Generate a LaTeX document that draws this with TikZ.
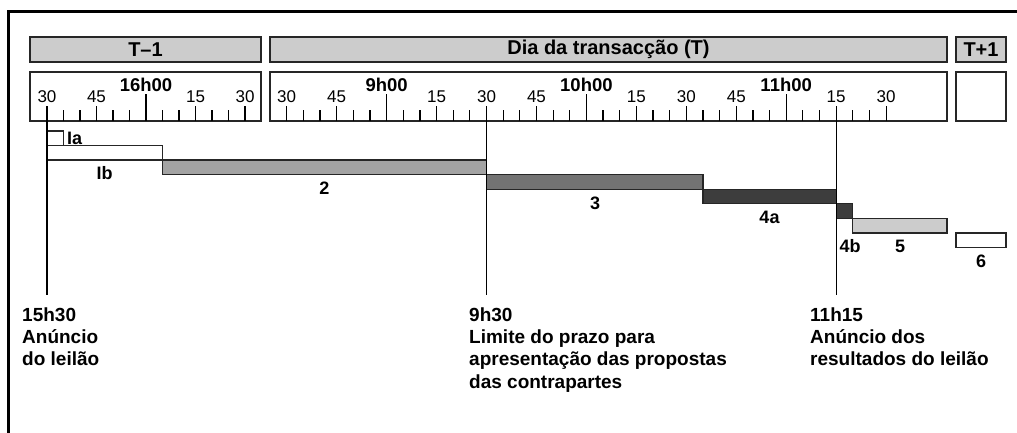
\documentclass[tikz,border=0pt]{standalone}
\usepackage{fontspec}
\setmainfont{Liberation Sans}
\begin{document}
\begin{tikzpicture}[x=1pt,y=-1pt,
  box/.style={draw=black!85,line width=1.2pt},
  daybar/.style={box,fill=black!20},
  phase/.style={draw=black!85,line width=1.3pt},
  daytext/.style={font=\bfseries\fontsize{20}{24}\selectfont},
  minlbl/.style={anchor=base,inner sep=0pt,font=\fontsize{17}{20}\selectfont},
  hourlbl/.style={anchor=base,inner sep=0pt,font=\bfseries\fontsize{18.5}{22}\selectfont},
  phaselbl/.style={anchor=base,inner sep=0pt,font=\bfseries\fontsize{18}{22}\selectfont},
  note/.style={anchor=north west,inner sep=0pt,align=left,
    font=\bfseries\fontsize{19}{22.2}\selectfont}]
  \useasboundingbox (0,0) rectangle (1017,433);
  % frame
  \draw[line width=2.8pt] (8.7,433) -- (8.7,11.7) -- (1017,11.7);
  % day headers
  \draw[daybar] (30,37) rectangle (261,62);
  \draw[daybar] (270,37) rectangle (947,62);
  \draw[daybar] (956,37) rectangle (1006,62);
  \node[daytext] (dprev) at (145.5,49.5) {T–1};
  \node[daytext] (dtrade) at (608.5,49.5) {Dia da transacção (T)};
  \node[daytext] (dnext) at (981,49.5) {T+1};
  % time scales
  \draw[box] (30,72) rectangle (261,121);
  \draw[box] (270,72) rectangle (947,121);
  \draw[box] (956,72) rectangle (1006,121);
  \foreach \i in {0,...,12} {
    \pgfmathsetmacro\len{mod(\i,12)==6 ? 27 : (mod(\i,3)==0 ? 15 : 11)}
    \draw[line width=1.2pt] ({47+\i*16.5},121) -- ++(0,-\len);
  }
  \foreach \i in {0,...,36} {
    \pgfmathsetmacro\len{mod(\i,12)==6 ? 27 : (mod(\i,3)==0 ? 15 : 11)}
    \draw[line width=1.2pt] ({286.7+\i*16.65},121) -- ++(0,-\len);
  }
  \foreach \i/\t in {0/30,3/45,9/15,12/30}
    \node[minlbl] (ma\i) at ({47+\i*16.5},102.7) {\t};
  \node[hourlbl] (h16) at ({47+6*16.5},91.7) {16h00};
  \foreach \i/\t in {0/30,3/45,9/15,12/30,15/45,21/15,24/30,27/45,33/15,36/30}
    \node[minlbl] (mb\i) at ({286.7+\i*16.65},102.7) {\t};
  \foreach \i/\t in {6/9h00,18/10h00,30/11h00}
    \node[hourlbl] (hb\i) at ({286.7+\i*16.65},91.7) {\t};
  % phases
  \draw[phase] (47,131) rectangle (63.5,145.55);
  \draw[phase] (47,145.55) rectangle (162.5,160.1);
  \draw[phase,fill=black!36] (162.5,160.1) rectangle (486.5,174.65);
  \draw[phase,fill=black!55] (486.5,174.65) rectangle (703,189.2);
  \draw[phase,fill=black!76] (703,189.2) rectangle (836.2,203.75);
  \draw[phase,fill=black!76] (836.2,203.75) rectangle (852.8,218.3);
  \draw[phase,fill=black!20] (852.8,218.3) rectangle (947,232.85);
  \draw[phase] (956,232.85) rectangle (1006,247.4);
  \node[phaselbl,anchor=base west] (pIa) at (67,144) {Ia};
  \node[phaselbl] (pIb) at (104.6,179.5) {Ib};
  \node[phaselbl] (p2) at (324.5,194.5) {2};
  \node[phaselbl] (p3) at (595,209.3) {3};
  \node[phaselbl] (p4a) at (769.5,223.5) {4a};
  \node[phaselbl] (p4b) at (850,252.5) {4b};
  \node[phaselbl] (p5) at (900,252.5) {5};
  \node[phaselbl] (p6) at (981,267.5) {6};
  % key moments
  \coordinate (k1top) at (47,121);
  \coordinate (k1end) at (47,295);
  \coordinate (k2top) at (486.5,121);
  \coordinate (k2end) at (486.5,295);
  \coordinate (k3top) at (836.2,121);
  \coordinate (k3end) at (836.2,295);
  \draw[line width=1.2pt] (k1top) -- (k1end);
  \draw[line width=1.2pt] (k2top) -- (k2end);
  \draw[line width=1.2pt] (k3top) -- (k3end);
  \node[note] (n1) at (22,307.5) {15h30\\Anúncio\\do leilão};
  \node[note] (n2) at (469,307.5) {9h30\\Limite do prazo para\\apresentação das propostas\\das contrapartes};
  \node[note] (n3) at (810,307.5) {11h15\\Anúncio dos\\resultados do leilão};
\end{tikzpicture}
\end{document}
